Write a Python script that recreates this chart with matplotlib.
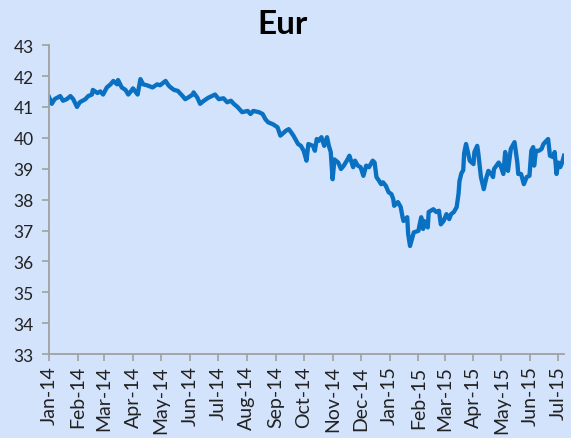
import numpy as np
import pandas as pd
import matplotlib
matplotlib.use('Agg')
import matplotlib.pyplot as plt
import matplotlib.dates as mdates

# days since 2014-01-01 and the rate on that day
day = [0, 3, 6, 12, 15, 19, 23, 26, 30, 33, 39, 42, 46, 47, 52, 55, 58, 62, 66, 69,
       73, 74, 78, 82, 85, 89, 90, 95, 98, 101, 105, 111, 116, 119, 125, 128, 130, 134, 138, 143,
       146, 149, 154, 155, 159, 162, 166, 171, 178, 182, 187, 191, 195, 198, 202, 207, 213, 216, 219, 225,
       229, 232, 235, 240, 245, 248, 254, 257, 259, 262, 267, 270, 273, 276, 278, 283, 285, 287, 289, 292,
       295, 298, 300, 302, 304, 306, 310, 313, 316, 320, 322, 326, 328, 331, 334, 337, 340, 343, 347, 349,
       351, 354, 356, 358, 361, 364, 367, 369, 370, 374, 377, 379, 380, 384, 385, 387, 390, 391, 396, 397,
       399, 401, 402, 406, 407, 412, 415, 418, 420, 423, 426, 429, 431, 434, 437, 439, 440, 442, 444, 445,
       447, 449, 451, 455, 456, 459, 460, 463, 466, 469, 471, 474, 476, 477, 482, 484, 487, 489, 491, 492,
       495, 499, 502, 503, 506, 509, 512, 515, 517, 519, 520, 522, 525, 528, 530, 533, 535, 537, 541, 542,
       544, 546, 548, 550, 552]
rate = [41.32, 41.10, 41.25, 41.35, 41.20, 41.25, 41.35, 41.25, 41.00, 41.15, 41.25, 41.35, 41.40, 41.55, 41.45, 41.50, 41.40, 41.63, 41.73, 41.84,
        41.73, 41.87, 41.63, 41.55, 41.40, 41.55, 41.60, 41.40, 41.90, 41.73, 41.70, 41.63, 41.73, 41.70, 41.84, 41.70, 41.64, 41.55, 41.52, 41.36,
        41.25, 41.30, 41.40, 41.47, 41.30, 41.10, 41.20, 41.30, 41.40, 41.25, 41.28, 41.15, 41.20, 41.10, 41.00, 40.83, 40.87, 40.77, 40.87, 40.83,
        40.77, 40.60, 40.50, 40.44, 40.34, 40.07, 40.23, 40.28, 40.20, 40.07, 39.80, 39.74, 39.58, 39.26, 39.80, 39.74, 39.58, 39.96, 39.90, 40.02,
        39.74, 40.02, 39.74, 39.54, 38.66, 39.30, 39.20, 38.99, 39.10, 39.30, 39.42, 39.05, 39.26, 39.10, 39.05, 38.77, 39.10, 39.05, 39.26, 39.20,
        38.73, 38.60, 38.50, 38.56, 38.45, 38.24, 38.18, 38.02, 37.80, 37.92, 37.76, 37.43, 37.31, 37.43, 36.88, 36.50, 36.83, 36.94, 36.99, 37.15,
        37.43, 37.05, 37.31, 37.10, 37.60, 37.69, 37.60, 37.64, 37.20, 37.31, 37.53, 37.37, 37.53, 37.60, 37.76, 38.20, 38.60, 38.85, 38.95, 39.50,
        39.80, 39.54, 39.26, 39.15, 39.54, 39.74, 39.54, 38.73, 38.34, 38.73, 38.93, 38.83, 38.73, 38.99, 39.20, 39.10, 38.83, 39.54, 38.99, 38.93,
        39.64, 39.86, 39.20, 38.83, 38.83, 38.50, 38.73, 38.77, 39.58, 39.70, 39.10, 39.58, 39.58, 39.64, 39.80, 39.90, 39.96, 39.42, 39.37, 39.54,
        38.83, 39.20, 39.05, 39.20, 39.42]
title = 'Eur'

dates = pd.Timestamp('2014-01-01') + pd.to_timedelta(day, unit='D')

plt.rcParams['font.family'] = ['Lato', 'DejaVu Sans']
bg = '#D3E3FC'
axis_grey = '#A0A0A0'

fig = plt.figure(figsize=(5.71, 4.39), dpi=100, facecolor=bg)
ax = fig.add_axes([0.0858, 0.191, 0.9019, 0.704])
ax.set_facecolor(bg)

ax.plot(dates, rate, color='#0A70C2', linewidth=3.1, solid_joinstyle='round')

ax.set_ylim(33, 43)
ax.set_yticks(np.arange(33, 44, 1))
ax.set_xlim(pd.Timestamp('2014-01-01'), pd.Timestamp('2015-07-07'))
ax.xaxis.set_major_locator(mdates.MonthLocator())
ax.xaxis.set_major_formatter(mdates.DateFormatter('%b-%y'))

for s in ['top', 'right']:
    ax.spines[s].set_visible(False)
for s in ['left', 'bottom']:
    ax.spines[s].set_color(axis_grey)
    ax.spines[s].set_linewidth(1.3)

ax.tick_params(axis='both', colors=axis_grey, direction='out', length=5, width=1.2,
               labelcolor='#222222')
ax.tick_params(axis='x', labelrotation=90, pad=3, labelsize=14)
ax.tick_params(axis='y', pad=6, labelsize=12.5)

fig.text(0.494, 0.945, title, ha='center', va='center', fontsize=24, fontweight='bold', color='black')

plt.savefig('out.png', dpi=100, facecolor=bg)
